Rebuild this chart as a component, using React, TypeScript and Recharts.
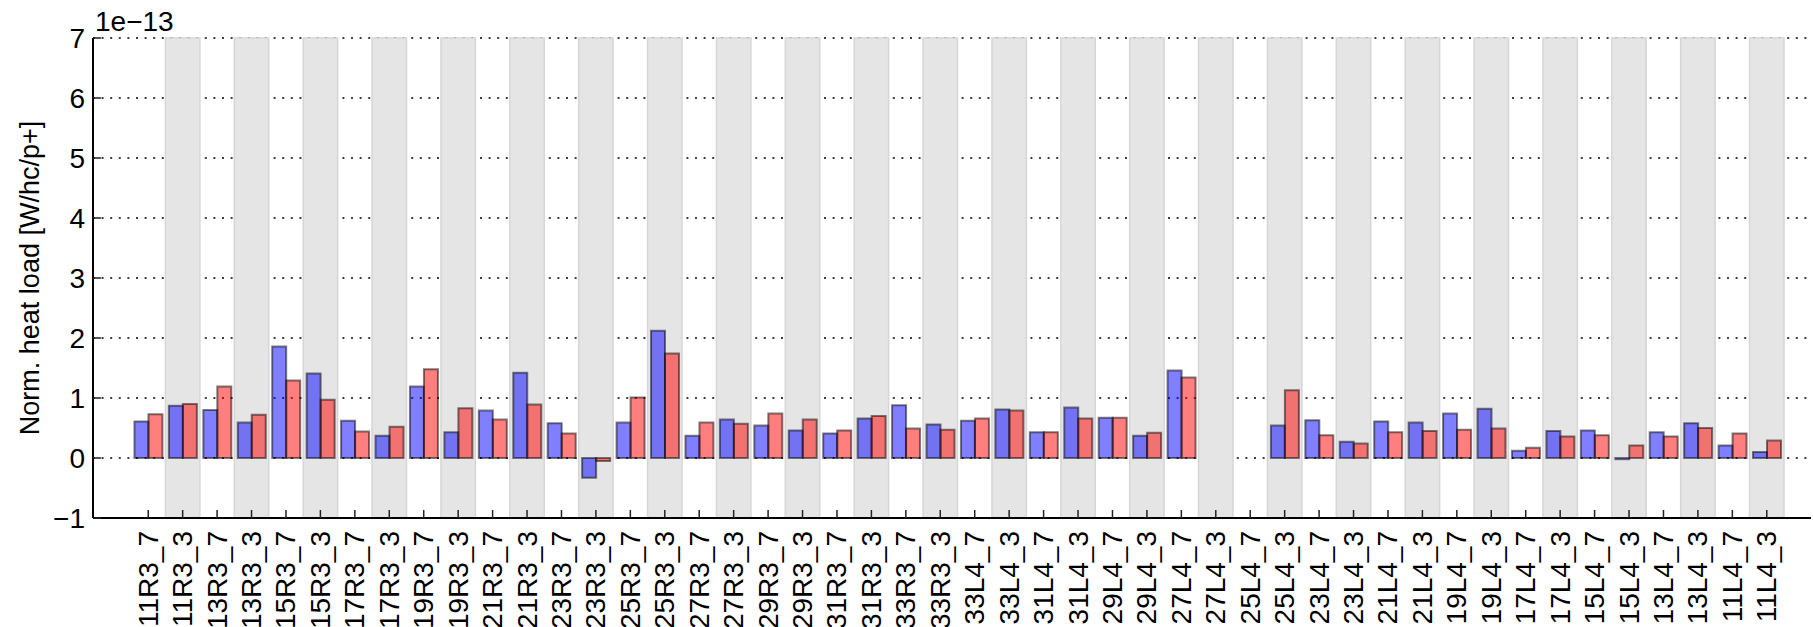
import React from 'react';
import { BarChart, Bar, XAxis, YAxis, CartesianGrid, ReferenceArea } from 'recharts';

const categories = [
  '11R3_7', '11R3_3', '13R3_7', '13R3_3', '15R3_7', '15R3_3', '17R3_7', '17R3_3',
  '19R3_7', '19R3_3', '21R3_7', '21R3_3', '23R3_7', '23R3_3', '25R3_7', '25R3_3',
  '27R3_7', '27R3_3', '29R3_7', '29R3_3', '31R3_7', '31R3_3', '33R3_7', '33R3_3',
  '33L4_7', '33L4_3', '31L4_7', '31L4_3', '29L4_7', '29L4_3', '27L4_7', '27L4_3',
  '25L4_7', '25L4_3', '23L4_7', '23L4_3', '21L4_7', '21L4_3', '19L4_7', '19L4_3',
  '17L4_7', '17L4_3', '15L4_7', '15L4_3', '13L4_7', '13L4_3', '11L4_7', '11L4_3',
];

const valuesBlue: (number | null)[] = [
  0.61, 0.87, 0.80, 0.59, 1.86, 1.41, 0.62, 0.37,
  1.19, 0.43, 0.79, 1.42, 0.58, -0.33, 0.59, 2.12,
  0.37, 0.64, 0.54, 0.46, 0.41, 0.66, 0.88, 0.56,
  0.62, 0.81, 0.43, 0.84, 0.67, 0.37, 1.46, null,
  null, 0.54, 0.63, 0.27, 0.61, 0.59, 0.74, 0.82,
  0.12, 0.45, 0.46, -0.02, 0.43, 0.58, 0.21, 0.10,
];

const valuesRed: (number | null)[] = [
  0.73, 0.90, 1.19, 0.72, 1.29, 0.97, 0.44, 0.52,
  1.48, 0.83, 0.64, 0.89, 0.41, -0.05, 1.01, 1.74,
  0.59, 0.57, 0.74, 0.64, 0.46, 0.70, 0.49, 0.47,
  0.66, 0.79, 0.43, 0.66, 0.67, 0.42, 1.34, null,
  null, 1.13, 0.38, 0.24, 0.43, 0.45, 0.47, 0.49,
  0.17, 0.36, 0.38, 0.21, 0.36, 0.50, 0.41, 0.29,
];

const yTicks = [-1, 0, 1, 2, 3, 4, 5, 6, 7];
const shadedCategories = categories.filter((c) => c.endsWith('_3'));
const offsetText = '1e\u221213';
const yLabel = 'Norm. heat load [W/hc/p+]';

const data = categories.map((name, i) => ({ name, blue: valuesBlue[i], red: valuesRed[i] }));

const FONT = '"Liberation Sans", Arial, Helvetica, sans-serif';
const FS = 28;
const FS_LABEL = 27;

function XTick(props: any) {
  const { x, y, payload } = props;
  return (
    <text
      x={x}
      y={y}
      transform={`rotate(-90 ${x} ${y})`}
      textAnchor="end"
      dominantBaseline="central"
      fontSize={FS}
      fontFamily={FONT}
      fill="#000"
    >
      {payload.value}
    </text>
  );
}

function YTick(props: any) {
  const { x, y, payload } = props;
  const v = Number(payload.value);
  const s = v < 0 ? '\u2212' + Math.abs(v) : String(v);
  return (
    <text x={x} y={y} textAnchor="end" dominantBaseline="central" fontSize={FS} fontFamily={FONT} fill="#000">
      {s}
    </text>
  );
}

const axisLine = { stroke: '#000', strokeWidth: 2 };
const tickLine = { stroke: '#222', strokeWidth: 1.5 };
const xPad = { left: 38, right: 27 };

export default function App() {
  return (
    <div style={{ position: 'absolute', left: 0, top: 0, width: 1813, height: 627, background: '#fff', overflow: 'hidden' }}>
      <BarChart
        width={1813}
        height={627}
        data={data}
        margin={{ top: 38, right: 2, bottom: 0, left: 0 }}
        barCategoryGap="10%"
        barGap={0}
      >
        {shadedCategories.map((c) => (
          <ReferenceArea
            key={c}
            x1={c}
            x2={c}
            y1={-1}
            y2={7}
            fill="#e5e5e5"
            fillOpacity={1}
            stroke="#d6d6d6"
            strokeWidth={1.5}
          />
        ))}
        <CartesianGrid horizontal vertical={false} stroke="#000" strokeDasharray="2 6.6" strokeWidth={1.5} />
        <XAxis
          dataKey="name"
          type="category"
          height={109}
          interval={0}
          padding={xPad}
          tickSize={-8}
          tickMargin={21}
          tick={<XTick />}
          axisLine={axisLine}
          tickLine={tickLine}
        />
        <XAxis
          xAxisId="top"
          orientation="top"
          dataKey="name"
          type="category"
          height={0}
          interval={0}
          padding={xPad}
          tickSize={-8}
          tick={false}
          axisLine={axisLine}
          tickLine={tickLine}
        />
        <YAxis
          type="number"
          domain={[-1, 7]}
          ticks={yTicks}
          allowDataOverflow
          width={93}
          tickSize={-8}
          tickMargin={16}
          tick={<YTick />}
          axisLine={axisLine}
          tickLine={tickLine}
        />
        <YAxis
          yAxisId="right"
          orientation="right"
          type="number"
          domain={[-1, 7]}
          ticks={yTicks}
          allowDataOverflow
          width={0}
          tickSize={-8}
          tick={false}
          axisLine={axisLine}
          tickLine={tickLine}
        />
        <Bar
          dataKey="blue"
          fill="#0000ff"
          fillOpacity={0.5}
          stroke="#000"
          strokeOpacity={0.5}
          strokeWidth={2}
          isAnimationActive={false}
        />
        <Bar
          dataKey="red"
          fill="#ff0000"
          fillOpacity={0.5}
          stroke="#000"
          strokeOpacity={0.5}
          strokeWidth={2}
          isAnimationActive={false}
        />
      </BarChart>
      <svg
        width={1813}
        height={627}
        style={{ position: 'absolute', left: 0, top: 0, pointerEvents: 'none' }}
      >
        <text x={95} y={31} fontSize={FS} fontFamily={FONT} fill="#000">
          {offsetText}
        </text>
        <text
          x={30}
          y={278}
          transform="rotate(-90 30 278)"
          textAnchor="middle"
          dominantBaseline="central"
          fontSize={FS_LABEL}
          fontFamily={FONT}
          fill="#000"
        >
          {yLabel}
        </text>
      </svg>
    </div>
  );
}
